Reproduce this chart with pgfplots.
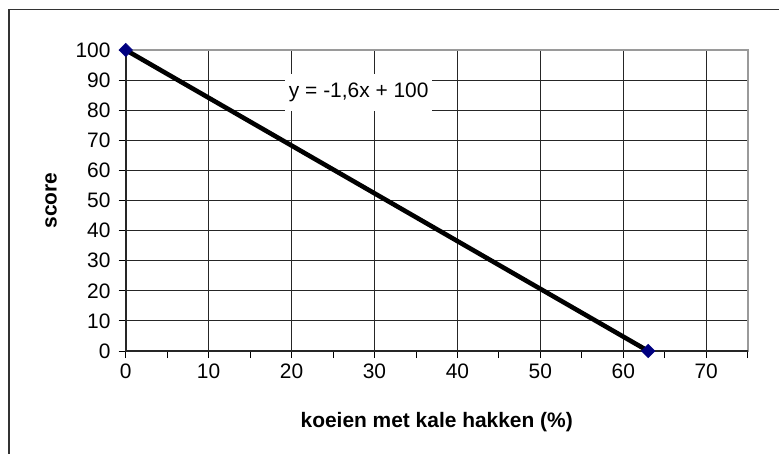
\documentclass[border=0pt]{standalone}
\usepackage{fontspec}
\setmainfont{Liberation Sans}
\usepackage{pgfplots}
\pgfplotsset{compat=1.18}
\definecolor{mk}{HTML}{000080}
\definecolor{pborder}{HTML}{9A9A9A}
\newcommand{\chartfont}{\fontsize{21}{25}\selectfont}
\begin{document}
\begin{tikzpicture}
\useasboundingbox (-125.7bp,-103bp) rectangle (653.3bp,351bp);
% chart area frame (only left and top are visible)
\draw[line width=1.6bp, black!80] (-116.4bp,-120bp) -- (-116.4bp,341.3bp) -- (680bp,341.3bp);
\begin{axis}[
  at={(0,0)}, anchor=south west,
  scale only axis, width=622bp, height=301bp,
  xmin=0, xmax=75, ymin=0, ymax=100,
  xtick={0,10,...,70}, minor xtick={5,15,...,75},
  ytick={0,10,...,100},
  xtick pos=bottom, ytick pos=left,
  tick align=outside, major tick length=7bp, minor tick length=7bp,
  every tick/.style={black, line width=0.9bp},
  xmajorgrids, ymajorgrids, grid style={black!85, line width=0.9bp},
  axis line style={pborder, line width=2.2bp},
  /pgf/number format/assume math mode=true,
  tick label style={font=\chartfont, black},
  yticklabel style={xshift=-4.7bp},
  xticklabel style={yshift=-2.5bp},
  xlabel={koeien met kale hakken (\%)}, ylabel={score},
  every axis x label/.style={at={(rel axis cs:0.5,0)}, anchor=center, yshift=-71bp, font=\bfseries\chartfont},
  every axis y label/.style={at={(rel axis cs:0,0.5)}, anchor=center, xshift=-74.7bp, rotate=90, font=\bfseries\chartfont},
  clip=false,
]
\draw[black!85, line width=2bp] (rel axis cs:0,1) -- (rel axis cs:0,0) -- (rel axis cs:1,0);
\node[fill=white, inner xsep=3.5bp, inner ysep=9bp, font=\chartfont] at (axis cs:28.1,86) {y = -1,6x + 100};
\addplot[black, line width=4.6bp, mark=square*, mark size=4.8bp,
  mark options={rotate=45, fill=mk, draw=mk, line width=0.4bp, solid}]
  coordinates {(0,100) (63,0)};
\end{axis}
\end{tikzpicture}
\end{document}
